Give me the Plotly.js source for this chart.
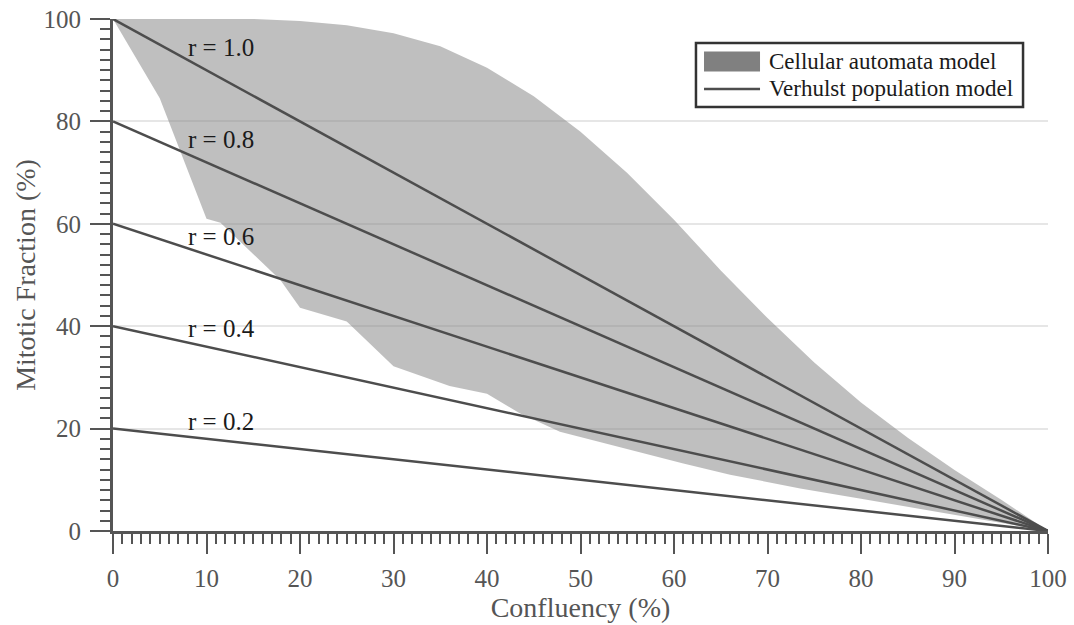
<!DOCTYPE html>
<html>
<head>
<meta charset="utf-8">
<script src="https://cdn.plot.ly/plotly-3.0.1.min.js"></script>
<style>
  html, body { margin: 0; padding: 0; background: #ffffff; }
  #chart { width: 1074px; height: 625px; }
</style>
</head>
<body>
<div id="chart"></div>
<script>
// Cellular automata model: envelope of simulated mitotic fraction (%)
const caUpperConfluency = [0, 5, 10, 15, 20, 25, 30, 35, 40, 45, 50, 55, 60, 65, 70, 75, 80, 85, 90, 95, 100];
const caUpperFraction   = [100, 100, 100, 100, 99.6, 98.8, 97.2, 94.7, 90.5, 84.9, 78.0, 69.9, 60.8, 50.9, 41.6, 32.9, 25.1, 18.2, 11.9, 6.1, 0];

const caLowerConfluency = [0, 5, 10, 11.5, 17.9, 20, 25, 30, 36, 40, 43.5, 47.8, 50, 54, 61, 66, 73.5, 80, 85, 90, 95, 100];
const caLowerFraction   = [100, 84.5, 61.0, 60.2, 49.0, 43.6, 40.9, 32.2, 28.3, 26.8, 23.0, 19.4, 18.3, 16.5, 13.2, 11.0, 8.3, 6.3, 4.7, 3.2, 1.6, 0];

// Verhulst population model: mitotic fraction falls linearly to zero at full confluency
const verhulstConfluency = [0, 100];
const growthRates = ['1.0', '0.8', '0.6', '0.4', '0.2'];
const verhulstFraction = [
  [100, 0],
  [80, 0],
  [60, 0],
  [40, 0],
  [20, 0]
];

const xTickValues = [0, 10, 20, 30, 40, 50, 60, 70, 80, 90, 100];
const yTickValues = [0, 20, 40, 60, 80, 100];

const legendLabels = ['Cellular automata model', 'Verhulst population model'];

const SERIF = '"Liberation Serif", "Times New Roman", serif';
const LINE_COLOR = '#4d4d4d';
const AXIS_COLOR = '#555555';
const TEXT_COLOR = '#1a1a1a';

// closed polygon: upper edge left->right, lower edge right->left
const bandX = caUpperConfluency.concat(caLowerConfluency.slice().reverse());
const bandY = caUpperFraction.concat(caLowerFraction.slice().reverse());

const traces = [
  {
    x: bandX, y: bandY,
    type: 'scatter', mode: 'lines',
    fill: 'toself',
    fillcolor: 'rgba(128,128,128,0.5)',
    line: { width: 0, color: 'rgba(0,0,0,0)' },
    name: legendLabels[0],
    hoverinfo: 'skip',
    showlegend: false
  }
];

growthRates.forEach((r, i) => {
  traces.push({
    x: verhulstConfluency,
    y: verhulstFraction[i],
    type: 'scatter', mode: 'lines',
    line: { color: LINE_COLOR, width: 2.5 },
    name: legendLabels[1] + ' (r = ' + r + ')',
    showlegend: false,
    hoverinfo: 'skip'
  });
});

// growth-rate labels along the left of the plot
const rateLabelY = [94.4, 76.5, 57.5, 39.6, 21.3];
const annotations = growthRates.map((r, i) => ({
  x: 7.8, y: rateLabelY[i],
  xref: 'x', yref: 'y',
  xanchor: 'left', yanchor: 'middle',
  text: 'r = ' + r,
  showarrow: false,
  font: { family: SERIF, size: 25, color: TEXT_COLOR }
}));

// boxed key in the upper right (paper coordinates)
const key = { x0: 0.6235, x1: 0.9733, y0: 0.8281, y1: 0.9531,
              swX0: 0.6321, swX1: 0.6920, textX: 0.6995,
              row1: 0.9170, row2: 0.8633, swH: 0.0195 };

const shapes = [
  { type: 'rect', xref: 'paper', yref: 'paper',
    x0: key.x0, x1: key.x1, y0: key.y0, y1: key.y1,
    fillcolor: '#ffffff', line: { color: '#333333', width: 2.5 }, layer: 'above' },
  { type: 'rect', xref: 'paper', yref: 'paper',
    x0: key.swX0, x1: key.swX1, y0: key.row1 - key.swH, y1: key.row1 + key.swH,
    fillcolor: '#808080', line: { width: 0 }, layer: 'above' },
  { type: 'line', xref: 'paper', yref: 'paper',
    x0: key.swX0, x1: key.swX1, y0: key.row2, y1: key.row2,
    line: { color: LINE_COLOR, width: 2.5 }, layer: 'above' }
];

annotations.push(
  { xref: 'paper', yref: 'paper', x: key.textX, y: key.row1,
    xanchor: 'left', yanchor: 'middle', showarrow: false,
    text: legendLabels[0], font: { family: SERIF, size: 23, color: TEXT_COLOR } },
  { xref: 'paper', yref: 'paper', x: key.textX, y: key.row2,
    xanchor: 'left', yanchor: 'middle', showarrow: false,
    text: legendLabels[1], font: { family: SERIF, size: 23, color: TEXT_COLOR } }
);

const axisCommon = {
  range: [0, 100],
  showline: true,
  linecolor: AXIS_COLOR,
  linewidth: 3,
  ticks: 'outside',
  ticklen: 20,
  tickwidth: 2,
  tickcolor: AXIS_COLOR,
  zeroline: false,
  tickfont: { family: SERIF, size: 25, color: AXIS_COLOR },
  fixedrange: true
};

const layout = {
  width: 1074,
  height: 625,
  margin: { l: 113, r: 26, t: 19, b: 94 },
  paper_bgcolor: '#ffffff',
  plot_bgcolor: '#ffffff',
  font: { family: SERIF, color: AXIS_COLOR },
  showlegend: false,
  xaxis: Object.assign({}, axisCommon, {
    tickmode: 'array',
    tickvals: xTickValues,
    ticktext: xTickValues.map(String),
    showgrid: false,
    ticklabelstandoff: 3,
    minor: { dtick: 1, ticks: 'outside', ticklen: 10, tickwidth: 2, tickcolor: AXIS_COLOR, showgrid: false },
    title: { text: 'Confluency (%)', font: { family: SERIF, size: 28, color: AXIS_COLOR }, standoff: 0 }
  }),
  yaxis: Object.assign({}, axisCommon, {
    tickmode: 'array',
    tickvals: yTickValues,
    ticktext: yTickValues.map(String),
    showgrid: true,
    gridcolor: '#e6e6e6',
    gridwidth: 2,
    ticklabelstandoff: 4,
    minor: { dtick: 2, ticks: 'outside', ticklen: 10, tickwidth: 2, tickcolor: AXIS_COLOR, showgrid: false },
    title: { text: 'Mitotic Fraction (%)', font: { family: SERIF, size: 28, color: AXIS_COLOR }, standoff: 0 }
  }),
  shapes: shapes,
  annotations: annotations
};

Plotly.newPlot('chart', traces, layout, { displayModeBar: false, staticPlot: true });
</script>
</body>
</html>
